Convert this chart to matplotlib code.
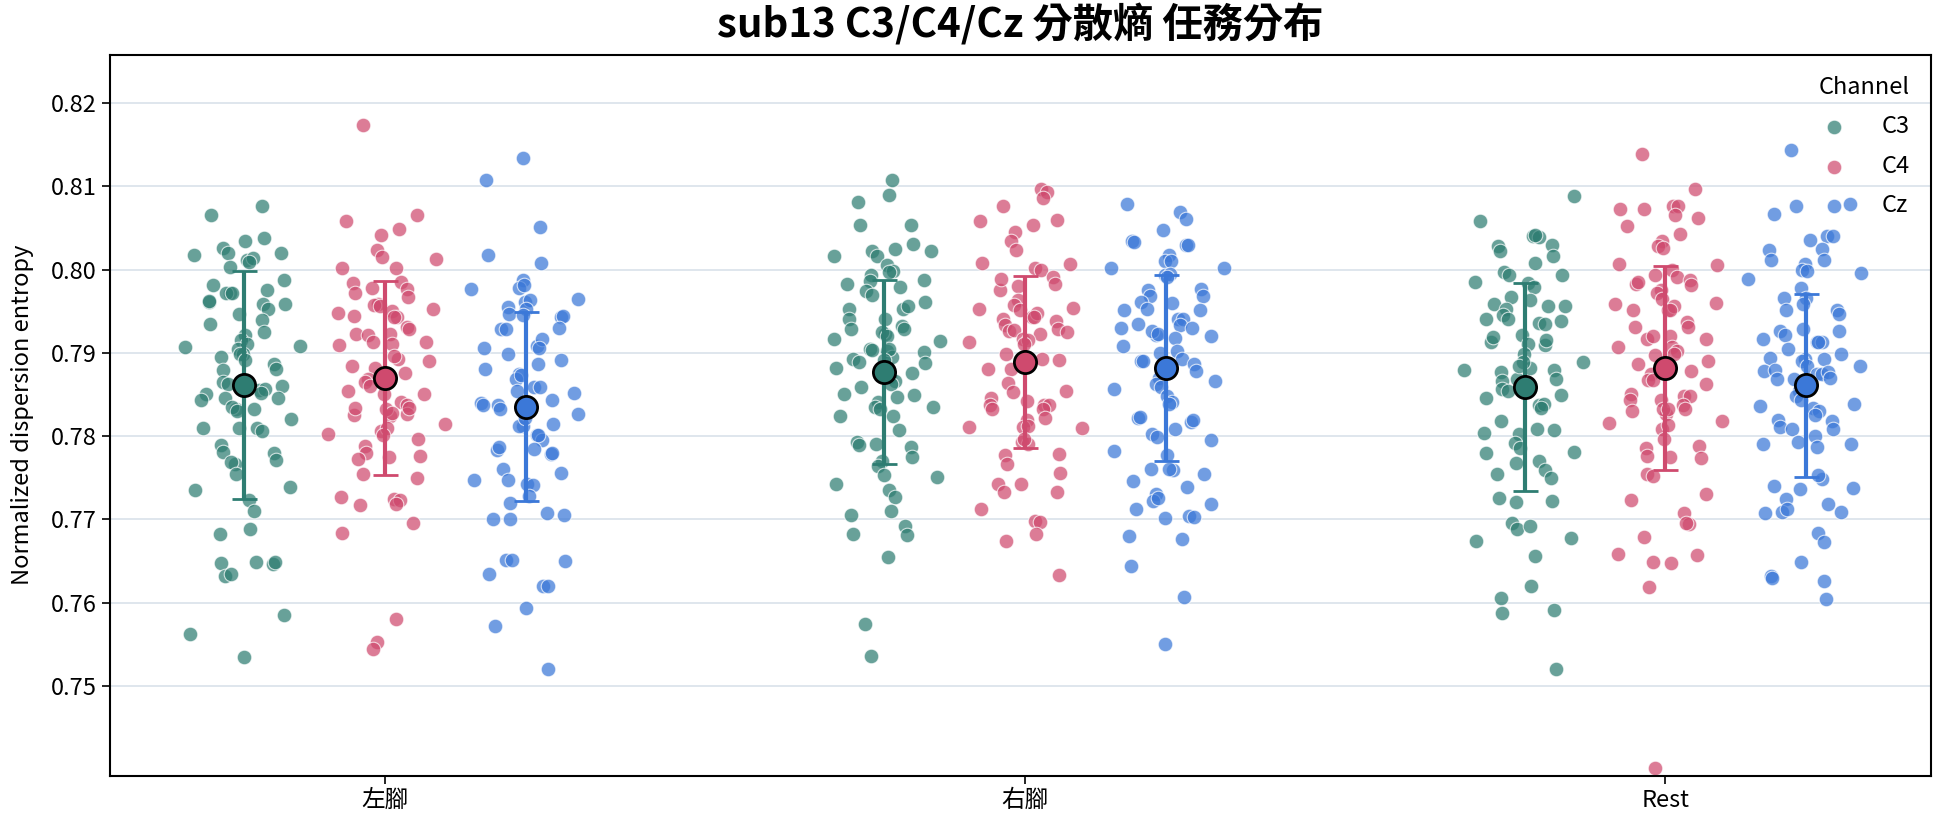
import numpy as np
import matplotlib
matplotlib.use("Agg")
import matplotlib.pyplot as plt

plt.rcParams['font.family'] = ['Noto Sans CJK TC', 'DejaVu Sans']

# tasks and channels
tasks = ['左腳', '右腳', 'Rest']
channels = ['C3', 'C4', 'Cz']

# per-trial normalized dispersion entropy
c3_left = [0.8076, 0.8065, 0.8038, 0.8034, 0.8026, 0.8020, 0.8020, 0.8017, 0.8012, 0.8014, 0.8009, 0.8003,
           0.7987, 0.7981, 0.7975, 0.7972, 0.7972, 0.7972, 0.7959, 0.7961, 0.7958, 0.7952, 0.7947, 0.7962,
           0.7939, 0.7935, 0.7925, 0.7921, 0.7915, 0.7911, 0.7908, 0.7907, 0.7904, 0.7899, 0.7898, 0.7895,
           0.7887, 0.7879, 0.7881, 0.7891, 0.7865, 0.7862, 0.7860, 0.7851, 0.7855, 0.7857, 0.7852, 0.7846,
           0.7846, 0.7843, 0.7833, 0.7833, 0.7835, 0.7830, 0.7820, 0.7810, 0.7810, 0.7806, 0.7810, 0.7789,
           0.7780, 0.7781, 0.7771, 0.7767, 0.7769, 0.7755, 0.7739, 0.7735, 0.7723, 0.7710, 0.7688, 0.7682,
           0.7646, 0.7648, 0.7649, 0.7649, 0.7632, 0.7635, 0.7585, 0.7562, 0.7535]
c4_left = [0.8173, 0.8065, 0.8058, 0.8049, 0.8041, 0.8024, 0.8015, 0.8013, 0.8002, 0.8002, 0.7985, 0.7978,
           0.7984, 0.7976, 0.7972, 0.7967, 0.7959, 0.7957, 0.7956, 0.7952, 0.7948, 0.7950, 0.7943, 0.7943,
           0.7944, 0.7931, 0.7923, 0.7929, 0.7923, 0.7921, 0.7913, 0.7913, 0.7909, 0.7910, 0.7892, 0.7896,
           0.7882, 0.7890, 0.7884, 0.7876, 0.7868, 0.7865, 0.7860, 0.7850, 0.7854, 0.7841, 0.7837, 0.7850,
           0.7825, 0.7827, 0.7834, 0.7834, 0.7824, 0.7832, 0.7828, 0.7815, 0.7803, 0.7806, 0.7810, 0.7801,
           0.7788, 0.7796, 0.7780, 0.7776, 0.7775, 0.7772, 0.7754, 0.7750, 0.7727, 0.7725, 0.7723, 0.7719,
           0.7717, 0.7696, 0.7684, 0.7580, 0.7553, 0.7545]
cz_left = [0.8134, 0.8108, 0.8051, 0.8017, 0.8008, 0.7987, 0.7978, 0.7981, 0.7965, 0.7976, 0.7961, 0.7963,
           0.7953, 0.7955, 0.7943, 0.7946, 0.7944, 0.7945, 0.7928, 0.7928, 0.7930, 0.7906, 0.7908, 0.7916,
           0.7906, 0.7899, 0.7891, 0.7880, 0.7887, 0.7874, 0.7868, 0.7873, 0.7852, 0.7840, 0.7859, 0.7859,
           0.7854, 0.7837, 0.7843, 0.7832, 0.7815, 0.7812, 0.7812, 0.7822, 0.7826, 0.7837, 0.7801, 0.7795,
           0.7801, 0.7783, 0.7778, 0.7787, 0.7780, 0.7785, 0.7760, 0.7747, 0.7756, 0.7747, 0.7743, 0.7741,
           0.7728, 0.7720, 0.7705, 0.7701, 0.7708, 0.7700, 0.7651, 0.7651, 0.7650, 0.7635, 0.7620, 0.7620,
           0.7594, 0.7572, 0.7520]
c3_right = [0.8108, 0.8089, 0.8081, 0.8054, 0.8054, 0.8031, 0.8025, 0.8022, 0.8016, 0.8022, 0.8016, 0.8006,
            0.7998, 0.7997, 0.7993, 0.7987, 0.7983, 0.7979, 0.7986, 0.7974, 0.7969, 0.7961, 0.7953, 0.7952,
            0.7956, 0.7940, 0.7940, 0.7932, 0.7928, 0.7928, 0.7922, 0.7925, 0.7920, 0.7914, 0.7917, 0.7902,
            0.7895, 0.7905, 0.7904, 0.7901, 0.7903, 0.7888, 0.7891, 0.7893, 0.7889, 0.7876, 0.7882, 0.7871,
            0.7866, 0.7862, 0.7859, 0.7849, 0.7850, 0.7847, 0.7841, 0.7835, 0.7833, 0.7835, 0.7824, 0.7824,
            0.7807, 0.7790, 0.7793, 0.7787, 0.7789, 0.7775, 0.7770, 0.7764, 0.7753, 0.7751, 0.7742, 0.7735,
            0.7727, 0.7710, 0.7705, 0.7692, 0.7683, 0.7681, 0.7655, 0.7574, 0.7536]
c4_right = [0.8097, 0.8093, 0.8086, 0.8076, 0.8060, 0.8058, 0.8054, 0.8045, 0.8034, 0.8023, 0.8007, 0.8008,
            0.8002, 0.8000, 0.7980, 0.7975, 0.7991, 0.7988, 0.7983, 0.7963, 0.7957, 0.7951, 0.7954, 0.7952,
            0.7943, 0.7948, 0.7943, 0.7941, 0.7938, 0.7933, 0.7929, 0.7922, 0.7926, 0.7927, 0.7925, 0.7913,
            0.7916, 0.7915, 0.7911, 0.7898, 0.7891, 0.7880, 0.7892, 0.7881, 0.7864, 0.7853, 0.7854, 0.7846,
            0.7837, 0.7837, 0.7842, 0.7837, 0.7833, 0.7833, 0.7822, 0.7819, 0.7811, 0.7812, 0.7810, 0.7811,
            0.7793, 0.7790, 0.7796, 0.7777, 0.7779, 0.7766, 0.7756, 0.7742, 0.7742, 0.7733, 0.7733, 0.7712,
            0.7698, 0.7697, 0.7683, 0.7674, 0.7633]
cz_right = [0.8079, 0.8069, 0.8061, 0.8047, 0.8034, 0.8030, 0.8033, 0.8030, 0.8017, 0.8010, 0.8010, 0.8002,
            0.8002, 0.7993, 0.7995, 0.7991, 0.7975, 0.7976, 0.7968, 0.7968, 0.7960, 0.7961, 0.7953, 0.7951,
            0.7951, 0.7941, 0.7941, 0.7933, 0.7935, 0.7930, 0.7930, 0.7918, 0.7921, 0.7926, 0.7922, 0.7920,
            0.7908, 0.7902, 0.7892, 0.7900, 0.7890, 0.7886, 0.7890, 0.7878, 0.7870, 0.7862, 0.7859, 0.7866,
            0.7856, 0.7848, 0.7841, 0.7839, 0.7822, 0.7817, 0.7823, 0.7819, 0.7809, 0.7803, 0.7799, 0.7795,
            0.7782, 0.7777, 0.7759, 0.7760, 0.7761, 0.7754, 0.7746, 0.7739, 0.7730, 0.7722, 0.7726, 0.7719,
            0.7712, 0.7704, 0.7703, 0.7702, 0.7680, 0.7677, 0.7644, 0.7607, 0.7550]
c3_rest = [0.8088, 0.8058, 0.8040, 0.8039, 0.8042, 0.8028, 0.8029, 0.8022, 0.8016, 0.8008, 0.7997, 0.7993,
           0.7993, 0.7985, 0.7984, 0.7979, 0.7963, 0.7967, 0.7956, 0.7958, 0.7956, 0.7952, 0.7945, 0.7941,
           0.7938, 0.7941, 0.7936, 0.7935, 0.7921, 0.7913, 0.7909, 0.7919, 0.7915, 0.7911, 0.7899, 0.7882,
           0.7889, 0.7879, 0.7868, 0.7889, 0.7884, 0.7877, 0.7879, 0.7866, 0.7869, 0.7861, 0.7856, 0.7854,
           0.7849, 0.7846, 0.7837, 0.7839, 0.7834, 0.7818, 0.7807, 0.7804, 0.7809, 0.7802, 0.7792, 0.7786,
           0.7781, 0.7780, 0.7770, 0.7759, 0.7768, 0.7755, 0.7750, 0.7726, 0.7722, 0.7721, 0.7696, 0.7689,
           0.7678, 0.7674, 0.7692, 0.7656, 0.7620, 0.7606, 0.7591, 0.7588, 0.7521]
c4_rest = [0.8139, 0.8097, 0.8073, 0.8076, 0.8076, 0.8066, 0.8073, 0.8062, 0.8052, 0.8043, 0.8034, 0.8028,
           0.8026, 0.8006, 0.8007, 0.8000, 0.7991, 0.7993, 0.7982, 0.7987, 0.7985, 0.7981, 0.7975, 0.7972,
           0.7964, 0.7960, 0.7958, 0.7951, 0.7956, 0.7951, 0.7951, 0.7937, 0.7931, 0.7931, 0.7920, 0.7916,
           0.7920, 0.7916, 0.7907, 0.7907, 0.7902, 0.7898, 0.7897, 0.7890, 0.7886, 0.7878, 0.7874, 0.7867,
           0.7867, 0.7862, 0.7850, 0.7848, 0.7848, 0.7843, 0.7843, 0.7837, 0.7830, 0.7832, 0.7827, 0.7833,
           0.7833, 0.7818, 0.7816, 0.7808, 0.7813, 0.7796, 0.7786, 0.7788, 0.7776, 0.7774, 0.7775, 0.7754,
           0.7752, 0.7730, 0.7723, 0.7708, 0.7694, 0.7696, 0.7679, 0.7657, 0.7658, 0.7648, 0.7649, 0.7619,
           0.7402]
cz_rest = [0.8144, 0.8076, 0.8079, 0.8067, 0.8040, 0.8040, 0.8036, 0.8024, 0.8025, 0.8012, 0.8011, 0.8007,
           0.8000, 0.7998, 0.7996, 0.7989, 0.7978, 0.7966, 0.7959, 0.7966, 0.7951, 0.7951, 0.7947, 0.7928,
           0.7926, 0.7921, 0.7926, 0.7917, 0.7913, 0.7913, 0.7913, 0.7905, 0.7898, 0.7894, 0.7893, 0.7893,
           0.7890, 0.7884, 0.7884, 0.7878, 0.7874, 0.7874, 0.7869, 0.7879, 0.7877, 0.7869, 0.7870, 0.7854,
           0.7848, 0.7843, 0.7838, 0.7836, 0.7834, 0.7830, 0.7825, 0.7819, 0.7818, 0.7811, 0.7808, 0.7800,
           0.7809, 0.7793, 0.7790, 0.7790, 0.7787, 0.7749, 0.7753, 0.7736, 0.7738, 0.7740, 0.7719, 0.7724,
           0.7709, 0.7712, 0.7709, 0.7708, 0.7684, 0.7673, 0.7649, 0.7632, 0.7626, 0.7630, 0.7604]

# mean and SD per task (rows) and channel (cols)
means = [[0.7861, 0.7870, 0.7835],
         [0.7877, 0.7889, 0.7882],
         [0.7859, 0.7882, 0.7861]]
sds = [[0.0137, 0.01165, 0.01135],
       [0.01105, 0.0103, 0.01115],
       [0.0125, 0.01225, 0.0110]]

data = {
    ('左腳', 'C3'): c3_left, ('左腳', 'C4'): c4_left, ('左腳', 'Cz'): cz_left,
    ('右腳', 'C3'): c3_right, ('右腳', 'C4'): c4_right, ('右腳', 'Cz'): cz_right,
    ('Rest', 'C3'): c3_rest, ('Rest', 'C4'): c4_rest, ('Rest', 'Cz'): cz_rest,
}

colors = {'C3': '#2e7d72', 'C4': '#cf4a6e', 'Cz': '#3b78d8'}
offsets = [-0.22, 0.0, 0.22]
jit = 0.10


def halton(n, base, start):
    # van der Corput sequence, used as a deterministic strip jitter
    out = []
    for k in range(start, start + n):
        f, r = 1.0, 0.0
        while k > 0:
            f /= base
            r += f * (k % base)
            k //= base
        out.append(r)
    return np.array(out)


fig = plt.figure(figsize=(19.44, 8.27), dpi=100)
ax = fig.add_axes([0.0566, 0.0617, 0.9367, 0.8723])

for i, task in enumerate(tasks):
    for j, ch in enumerate(channels):
        vals = np.array(data[(task, ch)])
        n = len(vals)
        u1 = halton(n, 2, 1 + 7 * (3 * i + j))
        u2 = halton(n, 3, 5 + 11 * (3 * i + j))
        xs = i + offsets[j] + (u1 + u2 - 1) * jit
        ax.scatter(xs, vals, s=110, color=colors[ch], alpha=0.72, edgecolors='white',
                   linewidths=0.8, zorder=2, label=ch if i == 0 else None)
        ax.errorbar(i + offsets[j], means[i][j], yerr=sds[i][j], fmt='o', color=colors[ch],
                    ecolor=colors[ch], elinewidth=3, capsize=9, capthick=2,
                    markersize=16, markerfacecolor=colors[ch], markeredgecolor='black',
                    markeredgewidth=2, zorder=4)

ax.set_xlim(-0.43, 2.415)
ax.set_ylim(0.7392, 0.8258)
ax.set_xticks(range(len(tasks)))
ax.set_xticklabels(tasks)
ax.set_yticks([0.75, 0.76, 0.77, 0.78, 0.79, 0.80, 0.81, 0.82])
ax.set_yticklabels(['0.75', '0.76', '0.77', '0.78', '0.79', '0.80', '0.81', '0.82'])
ax.tick_params(axis='both', labelsize=17, length=6, width=1.2)
ax.yaxis.grid(True, color='#dce4ec', linewidth=1.3, zorder=0)
ax.set_axisbelow(True)
for sp in ax.spines.values():
    sp.set_linewidth(1.5)
    sp.set_color('black')

ax.set_ylabel('Normalized dispersion entropy', fontsize=17, labelpad=12)
ax.set_title('sub13 C3/C4/Cz 分散熵 任務分布', fontsize=29, fontweight='bold', pad=12)

leg = ax.legend(title='Channel', loc='upper right', frameon=False, fontsize=17,
                title_fontsize=17, labelspacing=0.7, handletextpad=1.0, alignment='right',
                borderaxespad=0.5)

fig.savefig('out.png', dpi=100)
